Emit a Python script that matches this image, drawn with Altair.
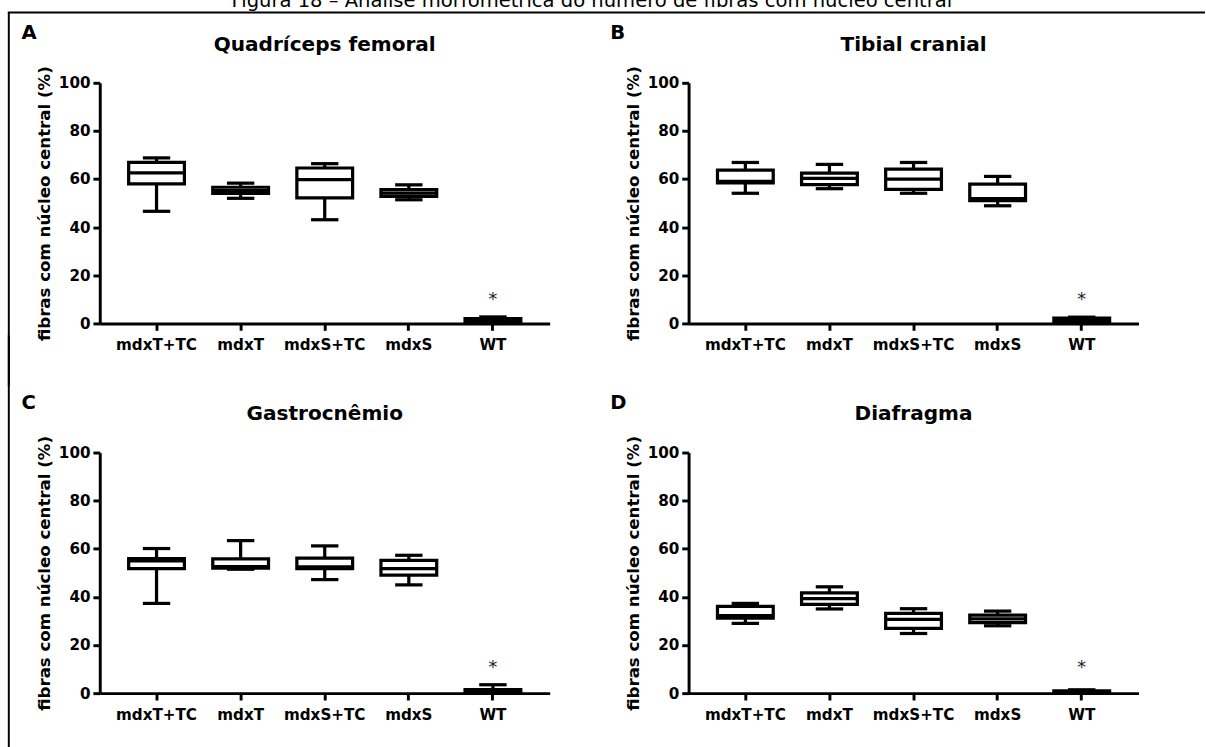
import altair as alt
import pandas as pd

groups = ["mdxT+TC", "mdxT", "mdxS+TC", "mdxS", "WT"]
muscles = ["Quadríceps femoral", "Tibial cranial", "Gastrocnêmio", "Diafragma"]
letters = ["A", "B", "C", "D"]
y_ticks = [0, 20, 40, 60, 80, 100]
fig_title = "Figura 18 – Análise morfométrica do número de fibras com núcleo central"
y_title = "fibras com núcleo central (%)"

# five-number summaries (min, Q1, median, Q3, max) per group
quad_min = [46.6, 52.0, 43.1, 51.4, 0.0]
quad_q1 = [58.0, 54.0, 52.2, 52.8, 0.4]
quad_med = [62.6, 55.2, 59.8, 54.2, 1.2]
quad_q3 = [66.9, 56.6, 64.6, 55.6, 2.0]
quad_max = [68.8, 58.3, 66.4, 57.6, 2.7]

tib_min = [54.1, 56.0, 54.1, 48.9, 0.0]
tib_q1 = [58.4, 57.7, 55.7, 51.0, 0.5]
tib_med = [59.0, 60.3, 60.0, 51.9, 1.2]
tib_q3 = [63.7, 62.5, 64.1, 57.9, 2.2]
tib_max = [66.9, 66.1, 66.9, 61.1, 2.6]

gas_min = [37.3, 51.5, 47.2, 45.0, 0.0]
gas_q1 = [51.8, 52.0, 51.8, 49.1, 0.3]
gas_med = [55.0, 52.6, 52.5, 51.8, 0.8]
gas_q3 = [55.9, 55.8, 56.1, 55.2, 1.5]
gas_max = [60.1, 63.4, 61.2, 57.3, 3.5]

dia_min = [29.0, 35.0, 24.8, 28.0, 0.0]
dia_q1 = [31.2, 36.9, 26.9, 29.3, 0.2]
dia_med = [32.2, 39.3, 30.7, 30.9, 0.6]
dia_q3 = [36.1, 41.7, 33.2, 32.4, 1.0]
dia_max = [37.3, 44.2, 35.1, 34.1, 1.4]

star_group = "WT"
star_y = [9.8, 9.8, 10.5, 10.5]

FONT = "DejaVu Sans"
W, H = 460, 246
SW = 3.3


def panel(idx, mins, q1, med, q3, maxs, extra=None):
    df = pd.DataFrame({"grupo": groups, "mn": mins, "q1": q1, "med": med, "q3": q3, "mx": maxs})
    xs = alt.Scale(domain=groups, paddingInner=0, paddingOuter=0.175)
    xa = alt.Axis(labelAngle=0, labelFont=FONT, labelFontSize=15.5, labelFontWeight="bold",
                  labelColor="black", labelPadding=8, tickSize=7, tickWidth=3, tickColor="black",
                  domainWidth=3, domainColor="black", grid=False)
    ys = alt.Scale(domain=[0, 100], nice=False)
    ya = alt.Axis(values=y_ticks, labelFont=FONT, labelFontSize=15.5, labelFontWeight="bold",
                  labelColor="black", labelPadding=3, tickSize=7, tickWidth=3, tickColor="black",
                  domainWidth=3, domainColor="black", grid=False, titleFont=FONT, titleFontSize=17,
                  titleFontWeight="bold", titleColor="black", titlePadding=5)
    X = alt.X("grupo:N", scale=xs, axis=xa, title=None, sort=groups)

    def Y(f):
        return alt.Y(f + ":Q", scale=ys, axis=ya, title=y_title)

    base = alt.Chart(df)
    whisk = base.mark_rule(color="black", strokeWidth=SW).encode(x=X, y=Y("mn"), y2="mx:Q")
    box = base.mark_bar(size=57, fill="white", stroke="black", strokeWidth=SW).encode(
        x=X, y=Y("q1"), y2="q3:Q")
    medt = base.mark_tick(orient="horizontal", size=57, thickness=SW, color="black", opacity=1).encode(
        x=X, y=Y("med"))
    caplo = base.mark_tick(orient="horizontal", size=28, thickness=SW, color="black", opacity=1).encode(
        x=X, y=Y("mn"))
    caphi = base.mark_tick(orient="horizontal", size=28, thickness=SW, color="black", opacity=1).encode(
        x=X, y=Y("mx"))
    star = alt.Chart(pd.DataFrame({"grupo": [star_group], "s": [star_y[idx]], "t": ["*"]})).mark_text(
        font=FONT, fontSize=18, color="#222222", baseline="middle").encode(
        x=X, y=Y("s"), text="t:N")
    lab = alt.Chart(pd.DataFrame({"t": [letters[idx]]})).mark_text(
        font=FONT, fontSize=20, fontWeight="bold", align="left", baseline="alphabetic", color="black"
    ).encode(text="t:N", x=alt.value(-80), y=alt.value(-45))
    ttl = alt.Chart(pd.DataFrame({"t": [muscles[idx]]})).mark_text(
        font=FONT, fontSize=20.5, fontWeight="bold", align="center", baseline="alphabetic", color="black"
    ).encode(text="t:N", x=alt.value(W / 2), y=alt.value(-33))
    layers = [whisk, box, medt, caplo, caphi, star, lab, ttl]
    if extra:
        layers += extra
    return alt.layer(*layers).properties(width=W, height=H)


one = pd.DataFrame({"t": [fig_title]})
frame_top = alt.Chart(one).mark_rule(color="black", strokeWidth=2).encode(
    x=alt.value(-94), x2=alt.value(1130), y=alt.value(-72))
frame_left_a = alt.Chart(one).mark_rule(color="black", strokeWidth=2).encode(
    x=alt.value(-93), y=alt.value(-72), y2=alt.value(310))
frame_left_c = alt.Chart(one).mark_rule(color="black", strokeWidth=2).encode(
    x=alt.value(-93), y=alt.value(-120), y2=alt.value(320))
head = alt.Chart(one).mark_text(font=FONT, fontSize=20, align="center", baseline="alphabetic",
                                color="black").encode(text="t:N", x=alt.value(503), y=alt.value(-78))
guard = alt.Chart(one).mark_rule(color="white", strokeWidth=1, opacity=0).encode(
    x=alt.value(0), x2=alt.value(10), y=alt.value(-110))

pA = panel(0, quad_min, quad_q1, quad_med, quad_q3, quad_max, [frame_top, frame_left_a, head, guard])
pB = panel(1, tib_min, tib_q1, tib_med, tib_q3, tib_max)
pC = panel(2, gas_min, gas_q1, gas_med, gas_q3, gas_max, [frame_left_c])
pD = panel(3, dia_min, dia_q1, dia_med, dia_q3, dia_max)

chart = alt.concat(pA, pB, pC, pD, columns=2, spacing={"row": 132, "column": 142}, bounds="flush").properties(
    padding={"left": 7, "top": -34, "right": 0, "bottom": 0}, background="white"
).configure_view(stroke=None)

chart.save("out.html", embed_options={"renderer": "svg", "actions": False})
